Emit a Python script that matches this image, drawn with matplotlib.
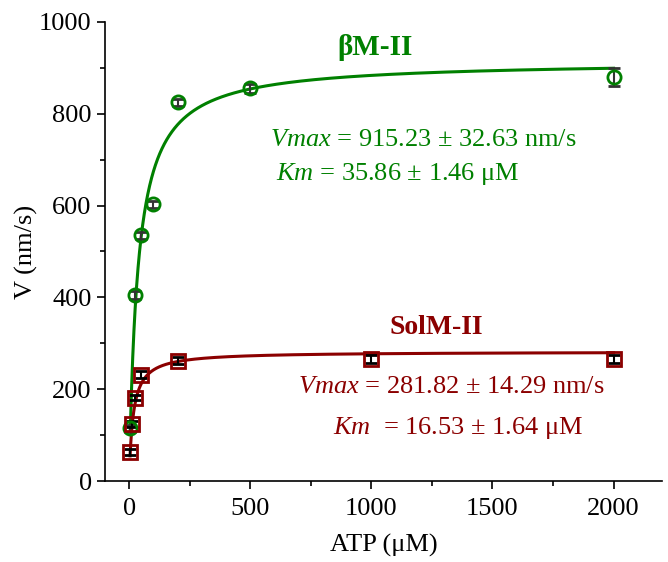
import numpy as np
import matplotlib
matplotlib.use("Agg")
import matplotlib.pyplot as plt
from matplotlib.ticker import MultipleLocator

plt.rcParams['font.family'] = ['Liberation Serif', 'DejaVu Serif']
plt.rcParams['mathtext.fontset'] = 'custom'
plt.rcParams['mathtext.rm'] = 'Liberation Serif'
plt.rcParams['mathtext.it'] = 'Liberation Serif:italic'

green = '#008000'
red = '#8B0000'

# data
atp_b = [5, 25, 50, 100, 200, 500, 2000]
v_b = [115, 405, 535, 603, 825, 855, 880]
err_b = [8, 8, 8, 8, 8, 10, 20]

atp_s = [5, 10, 25, 50, 200, 1000, 2000]
v_s = [63, 124, 182, 232, 262, 266, 266]
err_s = [6, 6, 6, 8, 8, 8, 8]

# Michaelis-Menten fit parameters (from chart text)
vmax_b, km_b = 915.23, 35.86
vmax_s, km_s = 281.82, 16.53

fig = plt.figure(figsize=(6.68, 5.62), dpi=100)
ax = fig.add_axes([0.157, 0.144, 0.834, 0.817])

xb = np.linspace(5, 2000, 2000)
xs = np.linspace(4, 2000, 2000)
ax.plot(xb, vmax_b * xb / (km_b + xb), color=green, lw=2.2, zorder=2)
ax.plot(xs, vmax_s * xs / (km_s + xs), color=red, lw=2.2, zorder=2)

ax.errorbar(atp_b, v_b, yerr=err_b, fmt='o', ms=9.5, mfc='none', mec=green, mew=2,
            ecolor='#333333', elinewidth=1.5, capsize=4, capthick=1.5, zorder=3)
ax.errorbar(atp_s, v_s, yerr=err_s, fmt='s', ms=9.5, mfc='none', mec=red, mew=2,
            ecolor='black', elinewidth=1.5, capsize=4, capthick=1.5, zorder=3)

ax.set_xlim(-100, 2200)
ax.set_ylim(0, 1000)
ax.xaxis.set_major_locator(MultipleLocator(500))
ax.xaxis.set_minor_locator(MultipleLocator(250))
ax.yaxis.set_major_locator(MultipleLocator(200))
ax.yaxis.set_minor_locator(MultipleLocator(100))
ax.tick_params(which='major', length=6, width=1.2, labelsize=19, direction='out')
ax.tick_params(axis='x', which='major', pad=6)
ax.tick_params(which='minor', length=3.5, width=1.2, direction='out')
for s in ['top', 'right']:
    ax.spines[s].set_visible(False)
for s in ['left', 'bottom']:
    ax.spines[s].set_linewidth(1.2)

ax.set_xlabel('ATP (μM)', fontsize=19, labelpad=10)
ax.set_ylabel('V (nm/s)', fontsize=19, labelpad=1)

ax.text(1015, 945, 'βM-II', color=green, fontsize=21, fontweight='bold', ha='center', va='center')
ax.text(582, 743, r'$\it{Vmax}$ = 915.23 ± 32.63 nm/s', color=green, fontsize=19, va='center')
ax.text(607, 669, r'$\it{Km}$ = 35.86 ± 1.46 μM', color=green, fontsize=19, va='center')

ax.text(1267, 335, 'SolM-II', color=red, fontsize=20, fontweight='bold', ha='center', va='center')
ax.text(697, 205, r'$\it{Vmax}$ = 281.82 ± 14.29 nm/s', color=red, fontsize=19, va='center')
ax.text(842, 115, r'$\it{Km}$  = 16.53 ± 1.64 μM', color=red, fontsize=19, va='center')

fig.savefig('out.png', dpi=100)
